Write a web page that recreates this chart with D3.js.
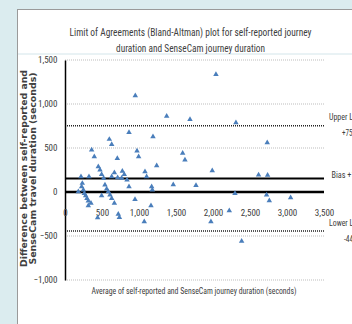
<!DOCTYPE html>
<html lang="en">
<head>
    <meta charset="UTF-8">
    <title>Bland-Altman plot</title>
    <style>
        body { margin: 0; background: #dbecef; }
        svg { display: block; }
        .narrow { font-family: "Liberation Sans Narrow", "Roboto Condensed", "DejaVu Sans Condensed", "Liberation Sans", sans-serif; }
        .tick text { fill: #404040; }
    </style>
</head>
<body>
    <svg id="chart" width="352" height="324"></svg>
    <script src="https://d3js.org/d3.v7.min.js"></script>
    <script>
        // Average of the two durations (x) and their difference (y)
        const averageValues = [
            950, 2040, 1374, 1689, 2310, 865, 1189, 599, 631, 2733,
            360, 396, 707, 973, 995, 1590, 1621, 1239, 450, 473,
            495, 667, 324, 216, 522, 631, 775, 801, 766, 838,
            1081, 1103, 711, 1990, 2616, 2738, 865, 1171, 1180, 1463,
            1770, 225, 180, 248, 261, 279, 297, 315, 315, 351,
            234, 540, 563, 585, 608, 631, 667, 495, 720, 735,
            441, 946, 1162, 1071, 2297, 2724, 2761, 3049, 2220, 1972,
            2387
        ];
        const differenceValues = [
            1094, 1337, 863, 826, 787, 678, 628, 599, 542, 560,
            477, 401, 383, 466, 401, 440, 364, 299, 288, 250,
            201, 219, 174, 174, 156, 174, 238, 201, 156, 136,
            231, 174, 163, 242, 193, 190, 60, 60, 23, 83,
            76, 60, 3, 23, -15, -42, -72, -102, -155, -128,
            99, 80, 34, 3, -34, -72, -128, -42, -253, -290,
            -292, -85, -155, -337, -15, -34, -99, -65, -212, -337,
            -560
        ];
        const xTicks = [0, 500, 1000, 1500, 2000, 2500, 3000, 3500];
        const yTicks = [-1000, -500, 0, 500, 1000, 1500];
        const bias = 154;
        const upperLimit = 752;
        const lowerLimit = -444;

        const svg = d3.select("#chart");
        const fmt = d3.format(",");

        const x = d3.scaleLinear().domain([0, 3500]).range([65, 324]);
        const y = d3.scaleLinear().domain([-1000, 1500]).range([280, 60]);

        // white chart panel (cropped on the right and bottom)
        svg.append("rect")
            .attr("x", 17.5).attr("y", 9.5)
            .attr("width", 400).attr("height", 400)
            .attr("fill", "#ffffff")
            .attr("stroke", "#9a9a9a");

        svg.append("line")
            .attr("x1", 18).attr("x2", 352)
            .attr("y1", 54).attr("y2", 54)
            .attr("stroke", "#d3e5ea");

        // title
        const title = svg.append("g").attr("class", "narrow")
            .attr("font-size", 10.5).attr("fill", "#404040").attr("text-anchor", "middle");
        title.append("text").attr("x", 190.5).attr("y", 36)
            .attr("textLength", 242).attr("lengthAdjust", "spacingAndGlyphs")
            .text("Limit of Agreements (Bland-Altman) plot for self-reported journey");
        title.append("text").attr("x", 190.5).attr("y", 51.5)
            .attr("textLength", 149).attr("lengthAdjust", "spacingAndGlyphs")
            .text("duration and SenseCam journey duration");

        // gridlines
        svg.append("g")
            .selectAll("line")
            .data(yTicks.filter(d => d !== 0))
            .join("line")
            .attr("x1", x(0)).attr("x2", x(3500))
            .attr("y1", d => y(d)).attr("y2", d => y(d))
            .attr("stroke", "#bdbdbd")
            .attr("stroke-dasharray", "1 1");

        // limits of agreement
        svg.append("g")
            .selectAll("line")
            .data([upperLimit, lowerLimit])
            .join("line")
            .attr("x1", x(0)).attr("x2", x(3500))
            .attr("y1", d => y(d)).attr("y2", d => y(d))
            .attr("stroke", "#222")
            .attr("stroke-width", 1.4)
            .attr("stroke-dasharray", "1 1");

        // bias and zero lines
        svg.append("line")
            .attr("x1", x(0)).attr("x2", x(3500))
            .attr("y1", y(bias)).attr("y2", y(bias))
            .attr("stroke", "#000").attr("stroke-width", 2);
        svg.append("line")
            .attr("x1", x(0)).attr("x2", x(3500))
            .attr("y1", y(0)).attr("y2", y(0))
            .attr("stroke", "#000").attr("stroke-width", 2.5);

        // y axis
        const yAxis = svg.append("g")
            .attr("class", "narrow")
            .attr("transform", `translate(${x(0)},0)`)
            .call(d3.axisLeft(y).tickValues(yTicks).tickSize(0).tickPadding(7.5).tickFormat(fmt));
        yAxis.select(".domain").attr("stroke", "#000").attr("stroke-width", 1.5);
        yAxis.selectAll("text").attr("font-size", 9).attr("font-family", null);

        // x axis labels (axis sits on zero, labels below)
        const xAxis = svg.append("g")
            .attr("class", "narrow")
            .attr("transform", `translate(0,${y(0)})`)
            .call(d3.axisBottom(x).tickValues(xTicks).tickSize(0).tickPadding(17.5).tickFormat(fmt));
        xAxis.select(".domain").remove();
        xAxis.selectAll("text").attr("font-size", 9).attr("font-family", null);

        // points
        const points = averageValues.map((v, i) => [v, differenceValues[i]]);
        svg.append("g")
            .selectAll("path")
            .data(points)
            .join("path")
            .attr("transform", d => `translate(${x(d[0])},${y(d[1])})`)
            .attr("d", d3.symbol(d3.symbolTriangle, 13))
            .attr("fill", "#4a7ebb");

        // axis titles
        svg.append("text")
            .attr("class", "narrow")
            .attr("x", 194).attr("y", 294)
            .attr("font-size", 9.5).attr("fill", "#404040")
            .attr("text-anchor", "middle")
            .attr("textLength", 205).attr("lengthAdjust", "spacingAndGlyphs")
            .text("Average of self-reported and SenseCam journey duration (seconds)");

        const yTitle = svg.append("g")
            .attr("font-family", "DejaVu Sans, Verdana, sans-serif")
            .attr("font-weight", "bold")
            .attr("font-size", 8.3)
            .attr("fill", "#404040")
            .attr("text-anchor", "middle");
        yTitle.append("text")
            .attr("transform", "translate(27,168.5) rotate(-90)")
            .attr("textLength", 197).attr("lengthAdjust", "spacingAndGlyphs")
            .text("Difference between self-reported and");
        yTitle.append("text")
            .attr("transform", "translate(35.5,168.5) rotate(-90)")
            .attr("textLength", 192).attr("lengthAdjust", "spacingAndGlyphs")
            .text("SenseCam travel duration (seconds)");

        // limit labels on the right (cut off by the image edge, as in the original)
        const notes = [
            { text: "Upper Limit", x: 329, y: 120, w: 36 },
            { text: "+" + upperLimit, x: 342, y: 136, w: 14 },
            { text: "Bias +" + bias, x: 331.5, y: 178, w: 32 },
            { text: "Lower Limit", x: 329, y: 226, w: 36 },
            { text: String(lowerLimit), x: 344, y: 242, w: 13 }
        ];
        svg.append("g")
            .attr("class", "narrow")
            .attr("font-size", 9).attr("fill", "#404040")
            .selectAll("text")
            .data(notes)
            .join("text")
            .attr("x", d => d.x)
            .attr("y", d => d.y)
            .attr("textLength", d => d.w)
            .attr("lengthAdjust", "spacingAndGlyphs")
            .text(d => d.text);
    </script>
</body>
</html>
